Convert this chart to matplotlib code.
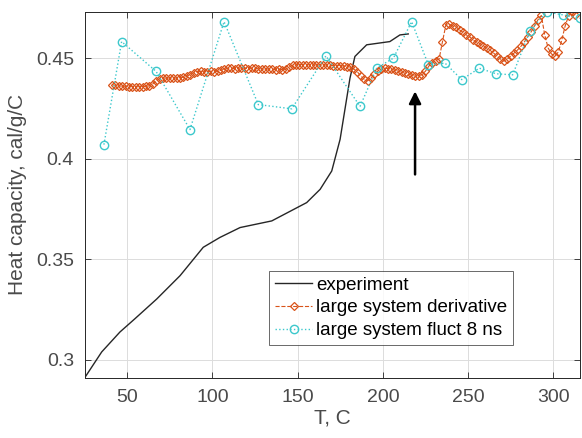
import matplotlib
matplotlib.use("Agg")
import matplotlib.pyplot as plt

plt.rcParams['font.family'] = ['Liberation Sans', 'DejaVu Sans']

# Experiment
exp_T = [25.2, 35.0, 45.7, 54.5, 67.3, 81.0, 94.6, 104.4, 116.2, 134.8, 155.3, 163.2,
         170.0, 174.9, 180.7, 183.6, 185.6, 190.5, 204.1, 210.0, 214.9]
exp_C = [0.2914, 0.3040, 0.3139, 0.3205, 0.3303, 0.3419, 0.3560, 0.3609, 0.3658, 0.3691,
         0.3782, 0.3848, 0.3939, 0.4096, 0.4400, 0.4508, 0.4525, 0.4566, 0.4582, 0.4615, 0.4620]

# Large system derivative
der_T = list(range(41, 315, 2))
der_C = [0.4368, 0.4365, 0.4362, 0.4360, 0.4360, 0.4358, 0.4358, 0.4357, 0.4358, 0.4358,
         0.4360, 0.4362, 0.4372, 0.4385, 0.4398, 0.4402, 0.4400, 0.4401, 0.4402, 0.4400,
         0.4402, 0.4405, 0.4410, 0.4418, 0.4428, 0.4433, 0.4434, 0.4432, 0.4433, 0.4434,
         0.4432, 0.4435, 0.4440, 0.4445, 0.4449, 0.4450, 0.4448, 0.4450, 0.4451, 0.4449,
         0.4448, 0.4450, 0.4449, 0.4447, 0.4446, 0.4445, 0.4446, 0.4444, 0.4443, 0.4444,
         0.4443, 0.4445, 0.4455, 0.4464, 0.4467, 0.4468, 0.4467, 0.4468, 0.4466, 0.4467,
         0.4466, 0.4465, 0.4466, 0.4465, 0.4464, 0.4463, 0.4462, 0.4463, 0.4460, 0.4458,
         0.4455, 0.4445, 0.4432, 0.4412, 0.4395, 0.4388, 0.4400, 0.4420, 0.4435, 0.4445,
         0.4450, 0.4448, 0.4445, 0.4440, 0.4435, 0.4430, 0.4425, 0.4420, 0.4415, 0.4410,
         0.4412, 0.4418, 0.4435, 0.4460, 0.4475, 0.4488, 0.4495, 0.4582, 0.4665, 0.4668,
         0.4660, 0.4655, 0.4640, 0.4628, 0.4615, 0.4605, 0.4590, 0.4580, 0.4572, 0.4560,
         0.4550, 0.4538, 0.4525, 0.4510, 0.4495, 0.4485, 0.4495, 0.4510, 0.4525, 0.4540,
         0.4558, 0.4580, 0.4605, 0.4630, 0.4660, 0.4690, 0.4712, 0.4615, 0.4550, 0.4520,
         0.4512, 0.4530, 0.4590, 0.4660, 0.4710, 0.4728, 0.4712]

# Large system fluct 8 ns
fl_T = [36.3, 46.7, 66.9, 86.8, 106.8, 126.9, 146.5, 166.6, 186.6, 196.4, 206.2, 216.9,
        226.7, 236.5, 246.3, 256.6, 266.4, 276.2, 286.4, 296.2, 306.0, 315.7]
fl_C = [0.4070, 0.4582, 0.4434, 0.4145, 0.4681, 0.4269, 0.4248, 0.4511, 0.4260, 0.4450,
        0.4500, 0.4681, 0.4467, 0.4475, 0.4393, 0.4450, 0.4422, 0.4417, 0.4637, 0.4730,
        0.4714, 0.4698]

xticks = [50, 100, 150, 200, 250, 300]
yticks = [0.3, 0.35, 0.4, 0.45]
ytick_labels = ['0.3', '0.35', '0.4', '0.45']

fig = plt.figure(figsize=(5.82, 4.38), dpi=100)
ax = fig.add_axes([85/582, 1 - 377.7/438, (580 - 85)/582, (377.7 - 12)/438])

orange = '#D95319'
cyan = '#3CC8CC'

ax.plot(exp_T, exp_C, '-', color='#262626', lw=1.0, label='experiment')
ax.plot(der_T, der_C, '--', color=orange, lw=0.8, marker='D', ms=4.5, mfc='none',
        mew=0.9, label='large system derivative')
ax.plot(fl_T, fl_C, ':', color=cyan, lw=1.0, marker='o', ms=6, mfc='none',
        mew=1.0, label='large system fluct 8 ns')

ax.annotate('', xy=(218.9, 0.4335), xytext=(218.9, 0.3922),
            arrowprops=dict(arrowstyle='-|>', color='black', lw=1.8,
                            mutation_scale=18, shrinkA=0, shrinkB=0))

ax.set_xlim(25.2, 315.7)
ax.set_ylim(0.2912, 0.4729)
ax.set_xticks(xticks)
ax.set_yticks(yticks)
ax.set_yticklabels(ytick_labels)
ax.grid(True, color='#DCDCDC', lw=0.7)
ax.set_axisbelow(True)
ax.tick_params(direction='in', top=True, right=True, length=4, width=0.6,
               labelsize=14, colors='#262626', labelcolor='#4A4A4A', pad=8)
for s in ax.spines.values():
    s.set_color('#262626')
    s.set_linewidth(0.7)

ax.set_xlabel('T, C', fontsize=15, color='#4A4A4A', labelpad=2)
ax.set_ylabel('Heat capacity, cal/g/C', fontsize=15, color='#4A4A4A', labelpad=6)

leg = ax.legend(loc='upper left', bbox_to_anchor=(0.3723, 0.2918), borderaxespad=0,
                fontsize=13.5, frameon=True, fancybox=False, edgecolor='#262626',
                handlelength=2.0, handletextpad=0.2, borderpad=0.3, labelspacing=0.3)
leg.get_frame().set_linewidth(0.6)

fig.savefig('out.png', dpi=100)
